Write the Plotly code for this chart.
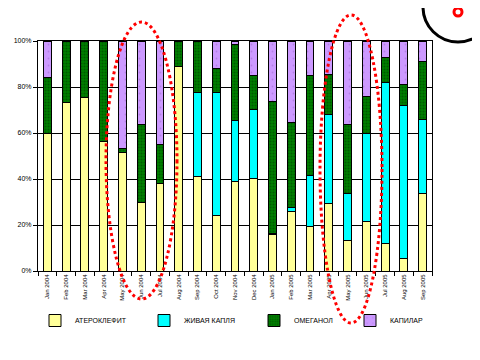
import plotly.graph_objects as go

months = ["Jan 2004", "Feb 2004", "Mar 2004", "Apr 2004", "May 2004", "Jun 2004", "Jul 2004",
          "Aug 2004", "Sep 2004", "Oct 2004", "Nov 2004", "Dec 2004", "Jan 2005", "Feb 2005",
          "Mar 2005", "Apr 2005", "May 2005", "Jun 2005", "Jul 2005", "Aug 2005", "Sep 2005"]

ateroklefit = [60.0, 73.1, 75.3, 56.4, 51.6, 30.0, 38.2, 88.8, 41.3, 24.3, 38.7, 40.4, 16.0, 26.0,
               19.5, 29.5, 13.4, 21.7, 12.1, 5.5, 33.9]
zhivaya_kaplya = [0, 0, 0, 0, 0, 0, 0, 0, 36.2, 53.2, 26.6, 29.7, 0.5, 1.8,
                  22.2, 38.4, 20.5, 38.3, 69.7, 66.3, 31.9]
omeganol = [24.0, 26.9, 24.7, 43.6, 1.5, 33.5, 16.6, 11.2, 22.5, 10.4, 33.1, 14.8, 57.0, 36.9,
            43.2, 17.4, 29.6, 15.9, 10.9, 9.2, 25.2]
kapilar = [16.0, 0, 0, 0, 46.9, 36.5, 45.2, 0, 0, 12.1, 1.6, 15.1, 26.5, 35.3,
           15.1, 14.7, 36.5, 24.1, 7.3, 19.0, 9.0]

y_ticks = [0, 20, 40, 60, 80, 100]
y_tick_labels = ["0%", "20%", "40%", "60%", "80%", "100%"]

# page body has an 8px margin, so the figure is shrunk and shifted by that
OFF = 8
W, H = 480 - OFF, 360 - OFF
L, R, T, B = 30, 48, 33, 89
PW, PH = W - L - R, H - T - B

def px(x):
    return (x - OFF - L) / PW

def py(y):
    return (H - B - (y - OFF)) / PH

fig = go.Figure()
line = dict(color="black", width=1)
fig.add_bar(name="АТЕРОКЛЕФИТ", x=months, y=ateroklefit, legend="legend",
            marker=dict(color="#FFFF99", line=line))
fig.add_bar(name="ЖИВАЯ КАПЛЯ", x=months, y=zhivaya_kaplya, legend="legend2",
            marker=dict(color="#00FFFF", line=line))
fig.add_bar(name="ОМЕГАНОЛ", x=months, y=omeganol, legend="legend3",
            marker=dict(color="#008000", line=line,
                        pattern=dict(shape=".", fgcolor="#003300", bgcolor="#008000",
                                     size=3, solidity=0.4)))
fig.add_bar(name="КАПИЛАР", x=months, y=kapilar, legend="legend4",
            marker=dict(color="#CC99FF", line=line,
                        pattern=dict(shape=".", fgcolor="#9966CC", bgcolor="#CC99FF",
                                     size=7, solidity=0.05)))

shapes = [
    dict(type="circle", xref="paper", yref="paper",
         x0=px(106), x1=px(177), y0=py(299), y1=py(22),
         line=dict(color="red", width=3, dash="3px,3px")),
    dict(type="circle", xref="paper", yref="paper",
         x0=px(320), x1=px(382), y0=py(323), y1=py(15),
         line=dict(color="red", width=3, dash="3px,3px")),
    dict(type="circle", xref="paper", yref="paper",
         x0=px(423), x1=px(493), y0=py(42), y1=py(-28),
         line=dict(color="black", width=3)),
    dict(type="circle", xref="paper", yref="paper",
         x0=px(454), x1=px(462), y0=py(16), y1=py(8),
         fillcolor="white", line=dict(color="red", width=3)),
]

def legend_at(xref_px):
    return dict(orientation="h", xref="container", yref="container",
                x=(xref_px - OFF) / W, y=1 - (306 - OFF) / H,
                xanchor="left", yanchor="top", font=dict(size=7),
                itemclick=False, itemdoubleclick=False, bgcolor="rgba(0,0,0,0)")

fig.update_layout(
    width=W, height=H,
    margin=dict(l=L, r=R, t=T, b=B, autoexpand=False),
    barmode="stack", barnorm="percent",
    bargap=0.58,
    paper_bgcolor="white", plot_bgcolor="white",
    font=dict(family="Liberation Sans", color="black"),
    showlegend=True,
    legend=legend_at(35),
    legend2=legend_at(144),
    legend3=legend_at(254),
    legend4=legend_at(350),
    shapes=shapes,
)
fig.update_xaxes(type="category", tickangle=-90, tickfont=dict(size=6),
                 showline=True, linecolor="black", linewidth=1, mirror=True,
                 ticks="outside", ticklen=4, tickcolor="black", tickson="boundaries",
                 showgrid=False)
fig.update_yaxes(range=[0, 100], tickmode="array", tickvals=y_ticks, ticktext=y_tick_labels,
                 tickfont=dict(size=7), showgrid=True, gridcolor="black", gridwidth=1,
                 showline=True, linecolor="black", linewidth=1, mirror=True,
                 ticks="outside", ticklen=4, tickcolor="black", zeroline=False)

fig.write_html("out.html")
